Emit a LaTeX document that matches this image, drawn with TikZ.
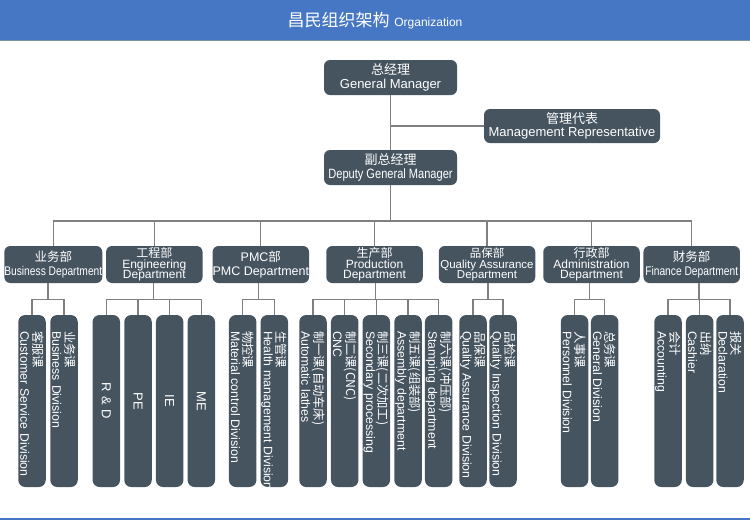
\documentclass[tikz,border=0pt]{standalone}
\usepackage{fontspec}
\setmainfont{Liberation Sans}
\newfontfamily\cjk{Noto Sans CJK SC}
\newfontfamily\narrow[FakeStretch=0.82]{Liberation Sans}
\usepackage{xcolor}
\usepackage{tikz}
\usetikzlibrary{calc}
\definecolor{barblue}{RGB}{70,119,196}
\definecolor{barline}{RGB}{125,148,165}
\definecolor{slate}{RGB}{70,84,96}
\definecolor{wiregray}{RGB}{128,128,128}
\newcommand{\zh}[1]{{\cjk #1}}
\newcommand{\pxfont}[2]{\fontsize{#1}{#2}\selectfont\lineskiplimit=-20pt\relax}
\newcommand{\twolines}[2]{\mbox{\zh{#1}}\\\mbox{#2}}

\begin{document}
\begin{tikzpicture}[x=1pt,y=-1pt,
    box/.style={fill=slate,text=white,rounded corners=6pt,align=center,inner sep=0pt},
    headbox/.style={box,minimum width=133pt,minimum height=35pt,font=\pxfont{13}{13.5}},
    dept/.style={box,minimum width=96.5pt,minimum height=37pt,font=\pxfont{12.5}{14}},
    deptthree/.style={dept,font=\pxfont{12}{10.6}},
    subbox/.style={box,rotate=-90,rounded corners=7pt,minimum height=27.5pt,inner xsep=16pt,text width=140pt,align=left,font=\pxfont{12.3}{12.8}},
    unitbox/.style={subbox,align=center,font=\pxfont{13}{13}},
    wire/.style={draw=wiregray,line width=1.1pt}
  ]
    \useasboundingbox (0,0) rectangle (750,520);
    \fill[barblue] (0,0) rectangle (750,40);
    \draw[barline,line width=1pt] (0,40.5) -- (750,40.5);
    \fill[barblue] (0,517.5) rectangle (750,520);
    \node[text=white,inner sep=0pt,font=\pxfont{17}{17}] (title) at (375,21) {\zh{昌民组织架构} {\pxfont{12}{12}Organization}};

    \node[headbox] (gm) at (390.5,77.5) {\zh{总经理}\\General Manager};
    \node[headbox,minimum width=176pt,minimum height=34pt] (rep) at (572,126) {\zh{管理代表}\\Management Representative};
    \node[headbox] (dgm) at (390.5,167.5) {\zh{副总经理}\\{\narrow\pxfont{13.5}{13.5}Deputy General Manager}};

    \node[dept] (biz) at (53.3,264.5) {\zh{业务部}\\{\narrow Business Department}};
    \node[deptthree] (eng) at (154.3,264.5) {\zh{工程部}\\Engineering\\Department};
    \node[dept] (pmc) at (260.8,264.5) {PMC\zh{部}\\PMC Department};
    \node[deptthree] (prod) at (374.5,264.5) {\zh{生产部}\\Production\\Department};
    \node[deptthree,font=\pxfont{11.5}{10.6}] (qa) at (487,264.5) {\zh{品保部}\\Quality Assurance\\Department};
    \node[deptthree] (adm) at (591.5,264.5) {\zh{行政部}\\Administration\\Department};
    \node[dept] (fin) at (691.7,264.5) {\zh{财务部}\\{\narrow Finance Department}};

    \node[subbox] (biz1) at (32,401) {\twolines{客服课}{Customer Service Division}};
    \node[subbox] (biz2) at (64,401) {\twolines{业务课}{Business Division}};
    \node[unitbox] (eng1) at (106.3,401) {R \& D};
    \node[unitbox] (eng2) at (138,401) {PE};
    \node[unitbox] (eng3) at (169.7,401) {IE};
    \node[unitbox] (eng4) at (201.3,401) {ME};
    \node[subbox] (pmc1) at (242.7,401) {\twolines{物控课}{Material control Division}};
    \node[subbox] (pmc2) at (274.3,401) {\twolines{生管课}{Health management Division}};
    \node[subbox] (prod1) at (313,401) {\twolines{制一课(自动车床)}{Automatic lathes}};
    \node[subbox] (prod2) at (344.7,401) {\twolines{制二课(CNC)}{CNC}};
    \node[subbox] (prod3) at (376.3,401) {\twolines{制三课(二次加工)}{Secondary processing}};
    \node[subbox] (prod4) at (408,401) {\twolines{制五课(组装部)}{Assembly department}};
    \node[subbox] (prod5) at (438.7,401) {\twolines{制六课(冲压部)}{Stamping department}};
    \node[subbox] (qa1) at (473,401) {\twolines{品保课}{Quality Assurance Division}};
    \node[subbox] (qa2) at (503,401) {\twolines{品检课}{Quality Inspection Division}};
    \node[subbox] (adm1) at (574.5,401) {\twolines{人事课}{Personnel Division}};
    \node[subbox] (adm2) at (604.7,401) {\twolines{总务课}{General Division}};
    \node[subbox] (fin1) at (668,401) {\twolines{会计}{Accounting}};
    \node[subbox] (fin2) at (699.7,401) {\twolines{出纳}{Cashier}};
    \node[subbox] (fin3) at (730,401) {\twolines{报关}{Declaration}};

    \draw[wire] (gm) -- (dgm);
    \draw[wire] (rep.west) -- (rep.west -| gm.south);
    \coordinate (bus) at (dgm.south |- 0,221);
    \draw[wire] (dgm) -- (bus);
    \foreach \dep in {biz,eng,pmc,prod,qa,adm,fin}
      \draw[wire] (bus) -| (\dep.north);
    \foreach \dep/\cnt in {biz/2,eng/4,pmc/2,prod/5,qa/2,adm/2,fin/3} {
      \coordinate (\dep-hub) at ($(\dep1.west)!.5!(\dep\cnt.west)+(0,-15)$);
      \draw[wire] (\dep.south -| \dep-hub) -- (\dep-hub);
      \foreach \i in {1,...,\cnt}
        \draw[wire] (\dep-hub) -| (\dep\i.west);
    }
  \end{tikzpicture}
\end{document}
